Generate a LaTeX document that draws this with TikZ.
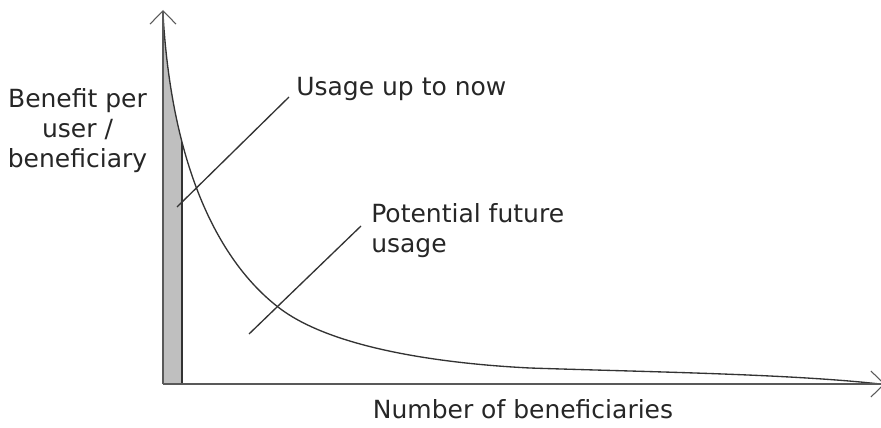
\documentclass[tikz,border=0pt]{standalone}
\usepackage{fontspec}
\setmainfont{DejaVu Sans}
\usetikzlibrary{arrows.meta,calc,positioning}

\begin{document}
\begin{tikzpicture}[x=0.75pt, y=-0.75pt,
    axisline/.style={line width=1.2pt, black!65, -{Straight Barb[length=10pt, width=19.5pt, line width=0.8pt]}},
    curveline/.style={line width=1pt, black!80},
    leader/.style={line width=1pt, black!80},
    labeltext/.style={font=\fontsize{18.75}{22.5}\selectfont, inner sep=0pt, text=black!85}]
    \useasboundingbox (0,0) rectangle (881,428);

    % Axes
    \coordinate (origin) at (163,384);
    \coordinate (ytip) at (163,10);
    \coordinate (xtip) at (885,384);

    % Usage up to now (shaded strip under the curve)
    \begin{scope}
        \clip (origin) -- (163,14) .. controls (172,170) and (220,262) .. (278,307)
            .. controls (338,354) and (470,365) .. (530,368)
            .. controls (650,372) and (790,374) .. (880,384) -- cycle;
        \fill[black!25] (163,0) rectangle (182,384);
        \draw[curveline] (182,384) -- (182,0);
    \end{scope}

    % Benefit curve
    \draw[curveline] (163,14) .. controls (172,170) and (220,262) .. (278,307)
        .. controls (338,354) and (470,365) .. (530,368)
        .. controls (650,372) and (790,374) .. (880,384);

    \draw[axisline] (origin) -- (ytip);
    \draw[axisline] (origin) -- (xtip);

    % Labels
    \node[labeltext, align=center, anchor=base] (ylabel) at (77.5,167) {Benefit per\\user /\\beneficiary};
    \node[labeltext, anchor=base] (xlabel) at (523,418) {Number of beneficiaries};
    \node[labeltext, anchor=base west] (usage) at (296,95) {Usage up to now};
    \node[labeltext, align=left, anchor=base west] (future) at (371,252) {Potential future\\usage};

    % Leader lines
    \coordinate (usagetail) at (177,207);
    \coordinate (futuretail) at (249,334);
    \draw[leader] (usagetail) -- ($(usage.base west)+(-7,2)$);
    \draw[leader] (futuretail) -- ($(future.base west)+(-10,-26)$);

\end{tikzpicture}
\end{document}
